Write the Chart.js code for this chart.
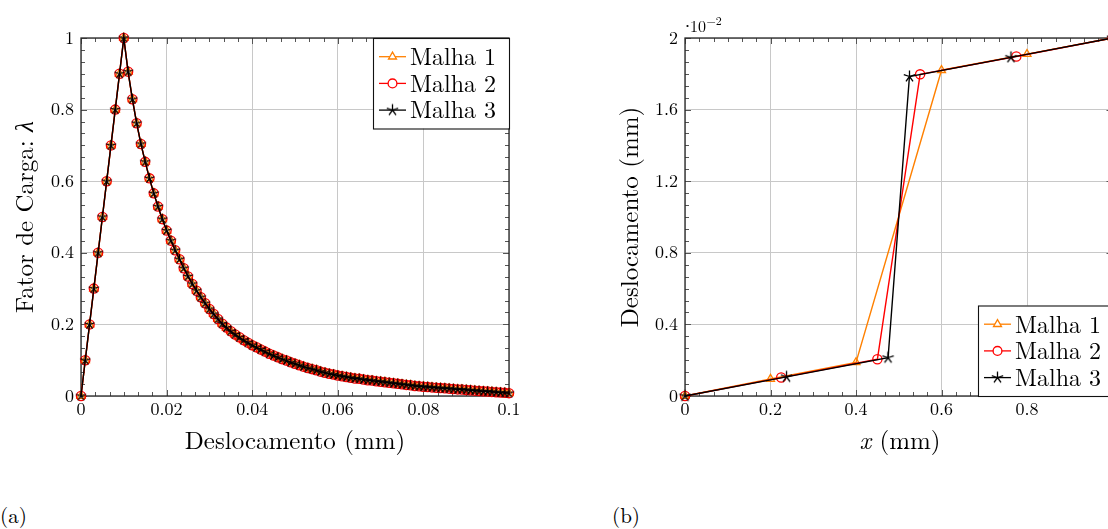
<!DOCTYPE html>
<html><head><meta charset="utf-8">
<script src="https://cdn.jsdelivr.net/npm/chart.js@4.4.0/dist/chart.umd.min.js"></script>
<style>
html,body{margin:0;padding:0;overflow:hidden;background:#fff;width:1108px;height:529px;}
#c1{position:absolute;left:0;top:0;}
#c2{position:absolute;left:560px;top:0;}
.lab{position:absolute;font-family:'Latin Modern Roman','Liberation Serif',serif;font-size:21px;color:#000;line-height:26px;}
</style></head><body>
<canvas id="c1" width="560" height="470"></canvas>
<canvas id="c2" width="560" height="470"></canvas>
<div class="lab" style="left:0px;top:501px">(a)</div>
<div class="lab" style="left:612px;top:501px">(b)</div>
<script>
// ---------- data (a): load factor vs displacement ----------
const loadDisp = [
 0,0.001,0.002,0.003,0.004,0.005,0.006,0.007,0.008,0.009,
 0.010,
 0.011,0.012,0.013,0.014,0.015,0.016,0.017,0.018,0.019,0.020,
 0.021,0.022,0.023,0.024,0.025,0.026,0.027,0.028,0.029,0.030,
 0.031,0.032,0.033,0.034,0.035,0.036,0.037,0.038,0.039,0.040,
 0.041,0.042,0.043,0.044,0.045,0.046,0.047,0.048,0.049,0.050,
 0.051,0.052,0.053,0.054,0.055,0.056,0.057,0.058,0.059,0.060,
 0.061,0.062,0.063,0.064,0.065,0.066,0.067,0.068,0.069,0.070,
 0.071,0.072,0.073,0.074,0.075,0.076,0.077,0.078,0.079,0.080,
 0.081,0.082,0.083,0.084,0.085,0.086,0.087,0.088,0.089,0.090,
 0.091,0.092,0.093,0.094,0.095,0.096,0.097,0.098,0.099,0.100
];
const loadLambda = [
 0,0.1,0.2,0.3,0.4,0.5,0.6,0.7,0.8,0.9,
 1.0,
 0.906,0.829,0.762,0.704,0.654,0.608,0.566,0.529,0.494,0.462,
 0.434,0.407,0.382,0.357,0.334,0.313,0.294,0.276,0.259,0.243,
 0.229,0.215,0.202,0.191,0.181,0.172,0.164,0.156,0.149,0.142,
 0.136,0.130,0.124,0.118,0.113,0.108,0.103,0.099,0.094,0.090,
 0.086,0.082,0.078,0.075,0.072,0.068,0.065,0.062,0.060,0.057,
 0.055,0.053,0.051,0.049,0.048,0.046,0.044,0.043,0.041,0.040,
 0.0385,0.037,0.0355,0.034,0.0325,0.031,0.030,0.028,0.027,0.026,
 0.025,0.024,0.023,0.022,0.0215,0.0205,0.0195,0.0185,0.018,0.017,
 0.016,0.015,0.014,0.013,0.0125,0.0115,0.0105,0.0095,0.0088,0.008
];
const seriesNames = ['Malha 1','Malha 2','Malha 3'];
const seriesColors = ['#ff8000','#ff0000','#000000'];

// ---------- data (b): displacement along x ----------
const m1X = [0,0.2,0.4,0.6,0.8,1];
const m1Y = [0,0.00095,0.00188,0.0182,0.0191,0.02];
const m2X = [0,0.225,0.45,0.55,0.775,1];
const m2Y = [0,0.00103,0.00205,0.01797,0.01897,0.02];
const m3X = [0,0.2375,0.475,0.525,0.7625,1];
const m3Y = [0,0.00107,0.00214,0.01785,0.01892,0.02];

// ---------- ticks ----------
const leftXTicks = [0,0.02,0.04,0.06,0.08,0.1];
const leftYTicks = [0,0.2,0.4,0.6,0.8,1];
const rightXTicks = [0,0.2,0.4,0.6,0.8,1];
const rightYTicks = [0,0.004,0.008,0.012,0.016,0.02];
const rightYTickLabels = ['0','0.4','0.8','1.2','1.6','2'];

const FONT = "'Latin Modern Roman','Liberation Serif',serif";

function makeStar(r, color, lw){
  const s = Math.ceil(2*r + 2*lw + 2);
  const c = document.createElement('canvas'); c.width = s; c.height = s;
  const g = c.getContext('2d');
  g.strokeStyle = color; g.lineWidth = lw;
  g.beginPath();
  for (let k=0;k<5;k++){
    const a = -Math.PI/2 + k*2*Math.PI/5;
    g.moveTo(s/2, s/2);
    g.lineTo(s/2 + r*Math.cos(a), s/2 + r*Math.sin(a));
  }
  g.stroke();
  return c;
}
const starSmall = makeStar(5.2, '#000', 1.3);
const starBig = makeStar(6, '#000', 1.3);

function drawMarker(ctx, kind, x, y, r, color){
  ctx.save();
  ctx.strokeStyle = color; ctx.lineWidth = 1.3;
  if (kind === 'triangle'){
    ctx.beginPath();
    for (let k=0;k<3;k++){
      const a = k*2*Math.PI/3;
      const px = x + Math.sin(a)*r, py = y - Math.cos(a)*r;
      k ? ctx.lineTo(px,py) : ctx.moveTo(px,py);
    }
    ctx.closePath(); ctx.fillStyle='#fff'; ctx.fill(); ctx.stroke();
  } else if (kind === 'circle'){
    ctx.beginPath(); ctx.arc(x,y,r,0,2*Math.PI); ctx.fillStyle='#fff'; ctx.fill(); ctx.stroke();
  } else {
    ctx.drawImage(starBig, x - starBig.width/2, y - starBig.height/2);
  }
  ctx.restore();
}

function drawRuns(ctx, runs, cx, cy, rot){
  ctx.save();
  ctx.translate(cx, cy); if (rot) ctx.rotate(rot);
  ctx.textBaseline = 'middle'; ctx.textAlign = 'left'; ctx.fillStyle = '#000';
  let total = 0;
  runs.forEach(r => { ctx.font = r.font; r.w = ctx.measureText(r.t).width; total += r.w; });
  let x = -total/2;
  runs.forEach(r => { ctx.font = r.font; ctx.fillText(r.t, x, 0); x += r.w; });
  ctx.restore();
}

function decor(cfg){
  return {
    id: 'decor',
    beforeDatasetsDraw(chart){
      const {ctx, chartArea:a, scales} = chart;
      const x = scales.x, y = scales.y;
      ctx.save();
      ctx.strokeStyle = '#555'; ctx.lineWidth = 1;
      ctx.beginPath();
      const each = (ticks, f) => {
        for (let i=0;i<ticks.length-1;i++)
          for (let k=1;k<6;k++) f(ticks[i] + (ticks[i+1]-ticks[i])*k/6, 4);
        ticks.forEach(v => f(v, 6));
      };
      each(cfg.xTicks, (v,L) => { const p = Math.round(x.getPixelForValue(v))+0.5;
        ctx.moveTo(p,a.bottom); ctx.lineTo(p,a.bottom-L); ctx.moveTo(p,a.top); ctx.lineTo(p,a.top+L); });
      each(cfg.yTicks, (v,L) => { const p = Math.round(y.getPixelForValue(v))+0.5;
        ctx.moveTo(a.left,p); ctx.lineTo(a.left+L,p); ctx.moveTo(a.right,p); ctx.lineTo(a.right-L,p); });
      ctx.stroke();
      ctx.strokeStyle = '#262626'; ctx.lineWidth = 1.3;
      ctx.strokeRect(a.left, a.top, a.right-a.left, a.bottom-a.top);
      ctx.restore();
    },
    afterDatasetsDraw(chart){
      const ctx = chart.ctx; const L = cfg.legend;
      ctx.save();
      ctx.fillStyle = '#fff'; ctx.fillRect(L.left, L.top, L.w, L.h);
      ctx.strokeStyle = '#111'; ctx.lineWidth = 1.1; ctx.strokeRect(L.left+0.5, L.top+0.5, L.w, L.h);
      const kinds = ['triangle','circle','star'];
      for (let i=0;i<3;i++){
        const yy = L.top + 18.7 + i*26.7;
        ctx.strokeStyle = seriesColors[i]; ctx.lineWidth = 1.3;
        ctx.beginPath(); ctx.moveTo(L.left+6, yy); ctx.lineTo(L.left+33, yy); ctx.stroke();
        drawMarker(ctx, kinds[i], L.left+19.5, yy, i===0?4.6:4.4, seriesColors[i]);
        ctx.fillStyle = '#000'; ctx.font = '24px ' + FONT; ctx.textBaseline = 'middle'; ctx.textAlign='left';
        ctx.fillText(seriesNames[i], L.left + 37, yy + 1);
      }
      ctx.restore();
    },
    afterDraw(chart){
      const ctx = chart.ctx;
      cfg.titles.forEach(t => drawRuns(ctx, t.runs, t.x, t.y, t.rot));
      if (cfg.extra) cfg.extra(ctx);
    }
  };
}

function fmt(v){ return String(Number(v.toFixed(4))); }

function scaleCfg(min, max, ticks, labelFn, isX, fitSize){
  return {
    type: 'linear', min, max,
    afterBuildTicks: s => { s.ticks = ticks.map(v => ({value: v})); },
    afterFit: s => { if (isX) s.height = fitSize; else s.width = fitSize; },
    ticks: { font: {family: FONT, size: 18}, color: '#000', padding: isX ? 3 : 7,
      maxRotation: 0, minRotation: 0, autoSkip: false, callback: labelFn },
    grid: { color: '#c8c8c8', lineWidth: 1, drawTicks: false },
    border: { display: false }
  };
}

const pointKinds = ['triangle','circle', null];

function ds(i, pts, r, star){
  return {
    label: seriesNames[i], data: pts,
    borderColor: seriesColors[i], borderWidth: 1.4,
    pointStyle: i===2 ? star : pointKinds[i],
    pointRadius: r, pointBorderWidth: 1.3, pointBorderColor: seriesColors[i],
    pointBackgroundColor: 'rgba(0,0,0,0)', pointHoverRadius: r,
    tension: 0, clip: false, order: 3 - i
  };
}

const loadPts = loadDisp.map((d,i) => ({x: d, y: loadLambda[i]}));
const toPts = (xs, ys) => xs.map((x,i) => ({x, y: ys[i]}));
const charts = [];

function build(){
  charts.push(new Chart(document.getElementById('c1'), {
    type: 'line',
    data: { datasets: [ds(0, loadPts, 4.8, starSmall), ds(1, loadPts, 4.6, starSmall), ds(2, loadPts, 5, starSmall)] },
    options: {
      responsive: false, animation: false, devicePixelRatio: 1,
      layout: { padding: {left: 0, top: 38, right: 51, bottom: 0} },
      plugins: { legend: {display: false}, tooltip: {enabled: false} },
      scales: {
        x: scaleCfg(0, 0.1, leftXTicks, v => fmt(v), true, 74),
        y: scaleCfg(0, 1, leftYTicks, v => fmt(v), false, 81)
      }
    },
    plugins: [decor({
      xTicks: leftXTicks, yTicks: leftYTicks,
      legend: {left: 373, top: 38, w: 136, h: 90.5},
      titles: [
        {runs: [{t: 'Deslocamento (mm)', font: '25px ' + FONT}], x: 295, y: 441},
        {runs: [{t: 'Fator de Carga: ', font: '25px ' + FONT}, {t: 'λ', font: 'italic 25px ' + FONT}], x: 25, y: 217, rot: -Math.PI/2}
      ]
    })]
  }));

  charts.push(new Chart(document.getElementById('c2'), {
    type: 'line',
    data: { datasets: [ds(0, toPts(m1X, m1Y), 4.6, starBig), ds(1, toPts(m2X, m2Y), 4.6, starBig), ds(2, toPts(m3X, m3Y), 6, starBig)] },
    options: {
      responsive: false, animation: false, devicePixelRatio: 1,
      layout: { padding: {left: 0, top: 38, right: 5.5, bottom: 0} },
      plugins: { legend: {display: false}, tooltip: {enabled: false} },
      scales: {
        x: scaleCfg(0, 1, rightXTicks, v => fmt(v), true, 74),
        y: scaleCfg(0, 0.02, rightYTicks, (v, i) => rightYTickLabels[i], false, 125)
      }
    },
    plugins: [decor({
      xTicks: rightXTicks, yTicks: rightYTicks,
      legend: {left: 418, top: 305.5, w: 137, h: 90.5},
      titles: [
        {runs: [{t: 'x', font: 'italic 25px ' + FONT}, {t: ' (mm)', font: '25px ' + FONT}], x: 340, y: 441},
        {runs: [{t: 'Deslocamento (mm)', font: '25px ' + FONT}], x: 70, y: 217, rot: -Math.PI/2}
      ],
      extra: ctx => {
        ctx.save(); ctx.fillStyle = '#000'; ctx.textBaseline = 'alphabetic'; ctx.textAlign = 'left';
        ctx.beginPath(); ctx.arc(127.5, 26, 1.1, 0, 2*Math.PI); ctx.fill();
        ctx.font = '16px ' + FONT; ctx.fillText('10', 130, 32);
        const w = ctx.measureText('10').width;
        ctx.font = '12px ' + FONT; ctx.fillText('−2', 130 + w + 0.5, 25);
        ctx.restore();
      }
    })]
  }));
}
build();
if (document.fonts && document.fonts.load) {
  Promise.all([
    document.fonts.load("18px 'Latin Modern Roman'"),
    document.fonts.load("italic 25px 'Latin Modern Roman'")
  ]).then(() => charts.forEach(c => c.update('none'))).catch(() => {});
}
</script>
</body></html>
